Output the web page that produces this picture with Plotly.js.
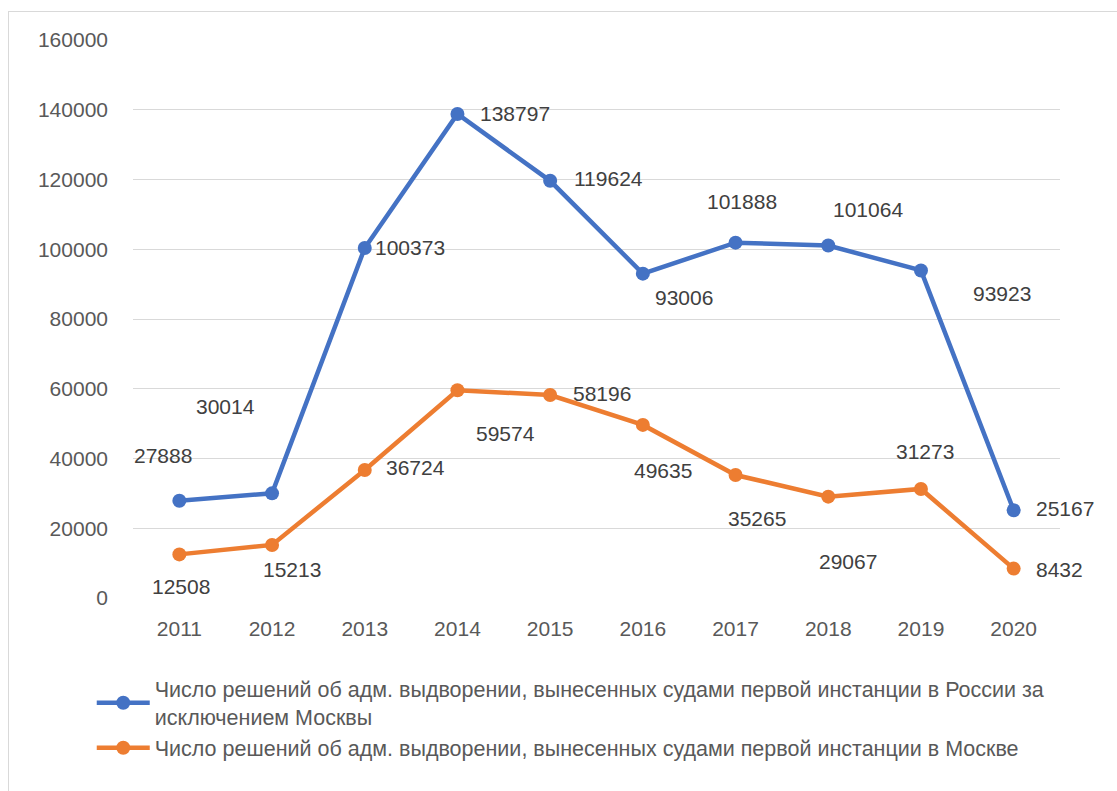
<!DOCTYPE html>
<html>
<head>
<meta charset="utf-8">
<script src="https://cdn.plot.ly/plotly-3.0.1.min.js"></script>
<style>
  html, body { margin: 0; padding: 0; background: #fff; overflow: hidden; }
  #frame { position: absolute; left: 8px; top: 11px; width: 1200px; height: 900px; border: 1px solid #d9d9d9; }
  #chart { position: absolute; left: 0; top: 0; width: 1117px; height: 791px; }
</style>
</head>
<body>
<div id="frame"></div>
<div id="chart"></div>
<script>
const years = ['2011','2012','2013','2014','2015','2016','2017','2018','2019','2020'];
const russiaExMoscow = [27888, 30014, 100373, 138797, 119624, 93006, 101888, 101064, 93923, 25167];
const moscow = [12508, 15213, 36724, 59574, 58196, 49635, 35265, 29067, 31273, 8432];
const seriesNames = [
  'Число решений об адм. выдворении, вынесенных судами первой инстанции в России за<br>исключением Москвы',
  'Число решений об адм. выдворении, вынесенных судами первой инстанции в Москве'
];
const yTicks = [0, 20000, 40000, 60000, 80000, 100000, 120000, 140000, 160000];

// label placement (pixel offsets from each point), style only
const blueLabelShift = [[-16,45],[-47,87],[45,0],[58,0],[58,2],[41,-24],[6,41],[40,36],[81,-23],[51,2]];
const orangeLabelShift = [[2,-32],[20,-25],[51,2],[48,-43],[52,2],[20,-46],[21,-43],[20,-65],[4,37],[46,-1]];

const BLUE = '#4472C4', ORANGE = '#ED7D31';
const FONT = 'Liberation Sans, Arial, sans-serif';

const traces = [
  { x: years, y: russiaExMoscow, name: seriesNames[0], type: 'scatter', mode: 'lines+markers',
    line: { color: BLUE, width: 4.5 }, marker: { color: BLUE, size: 14 } },
  { x: years, y: moscow, name: seriesNames[1], type: 'scatter', mode: 'lines+markers',
    line: { color: ORANGE, width: 4.5 }, marker: { color: ORANGE, size: 14 } }
];

const annotations = [];
[[russiaExMoscow, blueLabelShift], [moscow, orangeLabelShift]].forEach(([vals, shifts]) => {
  vals.forEach((v, i) => {
    // category axis: position by category index
    annotations.push({ x: i, y: v, xref: 'x', yref: 'y', text: String(v), showarrow: false,
      xshift: shifts[i][0], yshift: shifts[i][1], font: { family: FONT, size: 21, color: '#404040' } });
  });
});

const layout = {
  width: 1117, height: 791,
  margin: { l: 133, r: 57, t: 40, b: 193 },
  paper_bgcolor: 'rgba(0,0,0,0)', plot_bgcolor: 'rgba(0,0,0,0)',
  font: { family: FONT, size: 21, color: '#595959' },
  showlegend: true,
  legend: { orientation: 'v', x: -0.0445, xanchor: 'left', y: -0.126, yanchor: 'top',
    font: { family: FONT, size: 21.5, color: '#595959' }, itemwidth: 53, tracegroupgap: 0,
    bgcolor: 'rgba(0,0,0,0)' },
  xaxis: { type: 'category', range: [-0.5, 9.5], showgrid: false, showline: false, zeroline: false,
    ticks: '', tickfont: { family: FONT, size: 21, color: '#595959' }, ticklabelstandoff: 16 },
  yaxis: { range: [0, 160000], tickvals: yTicks, ticktext: yTicks.map(String), showgrid: true,
    gridcolor: '#d9d9d9', gridwidth: 1, zeroline: false, showline: false, ticks: '',
    tickfont: { family: FONT, size: 21, color: '#595959' }, ticklabelstandoff: 24 },
  annotations: annotations
};

Plotly.newPlot('chart', traces, layout, { displayModeBar: false, staticPlot: true });
</script>
</body>
</html>
